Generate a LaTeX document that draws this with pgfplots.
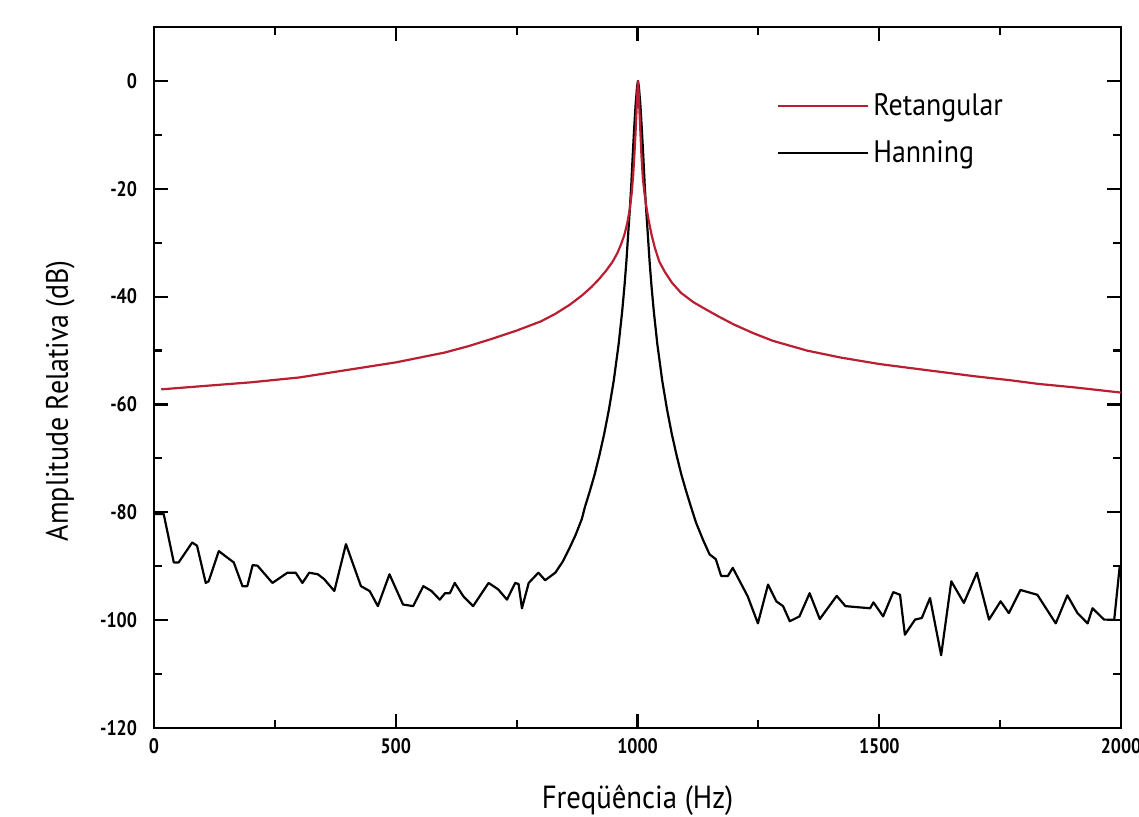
\documentclass[border=0pt]{standalone}
\usepackage{fontspec}
\setmainfont{PT Sans}[FakeStretch=0.9]
\newfontfamily\tickfont{PT Sans}[FakeStretch=0.85]
\usepackage{pgfplots}
\pgfplotsset{compat=1.18}
\definecolor{rectred}{RGB}{185,30,50}
\begin{document}
\begin{tikzpicture}
\begin{axis}[
  scale only axis,
  width=483.5pt, height=350.5pt,
  xmin=0, xmax=2000, ymin=-120, ymax=10,
  xtick={0,500,1000,1500,2000},
  ytick={-120,-100,-80,-60,-40,-20,0},
  minor x tick num=1, minor y tick num=1,
  tick align=inside,
  major tick length=7pt, minor tick length=4pt,
  every tick/.style={black, line width=1.1pt},
  axis line style={line width=1.2pt},
  /pgf/number format/assume math mode=true,
  /pgf/number format/1000 sep={},
  tick label style={font=\tickfont\fontsize{10.5}{12}\selectfont\bfseries},
  yticklabel style={xshift=-5pt},
  xticklabel style={yshift=-1.5pt},
  xlabel={Freqüência (Hz)},
  ylabel={Amplitude Relativa (dB)},
  xlabel style={font=\fontsize{16}{18}\selectfont, at={(axis description cs:0.5,-0.103)}, anchor=center},
  ylabel style={font=\fontsize{15.5}{18}\selectfont, at={(axis description cs:-0.097,0.467)}, anchor=center, rotate=0},
  legend style={at={(axis description cs:0.644,0.911)}, anchor=north west,
    draw=none, fill=none, inner sep=0pt, row sep=7pt,
    font=\fontsize{15.5}{18}\selectfont},
  legend cell align=left,
  legend image code/.code={\draw[#1] (0pt,0pt) -- (45pt,0pt);},
]
\addlegendimage{rectred, line width=1.1pt}
\addlegendentry{Retangular}
\addlegendimage{black, line width=1.1pt}
\addlegendentry{Hanning}

\addplot[black, line width=1.1pt, line join=round, forget plot] coordinates {
(0,-80.3) (20,-80.3) (41,-89.3) (51,-89.3) (79,-85.6) (89,-86.2) (107,-93.1)
(113,-92.8) (134,-87.2) (165,-89.3) (183,-93.7) (193,-93.7) (204,-89.8)
(214,-89.9) (245,-93.1) (276,-91.2) (293,-91.2) (307,-93.1) (321,-91.2)
(339,-91.5) (352,-92.4) (373,-94.6) (397,-85.9) (428,-93.7) (446,-94.6)
(463,-97.4) (487,-91.5) (515,-97.1) (536,-97.4) (557,-93.7) (574,-94.6)
(591,-96.2) (602,-95.0) (612,-95.0) (622,-93.1) (640,-95.6) (660,-97.4)
(692,-93.1) (712,-94.3) (730,-96.2) (747,-93.1) (754,-93.3) (761,-97.8)
(775,-93.1) (795,-91.2) (809,-92.6) (830,-91.2) (845,-89.2) (858,-86.9)
(872,-84.2) (885,-81.2) (891,-79.1) (901,-76.2) (911,-73.1) (921,-69.5)
(931,-65.5) (941,-60.9) (951,-55.5) (961,-48.8) (968,-43) (973,-38.1)
(977,-33.5) (981,-28) (984,-24) (987,-19.5) (990,-14) (993,-9) (996,-4.5)
(999,-1.2) (1001,0) (1003,-1.2) (1006,-4.5) (1009,-9) (1012,-14)
(1015,-19.5) (1018,-24) (1021,-28) (1025,-33.5) (1029,-38.1) (1034,-43)
(1041,-48.8) (1051,-55.5) (1061,-60.9) (1071,-65.5) (1081,-69.5)
(1091,-73.1) (1101,-76.2) (1111,-79.1) (1121,-81.9) (1135,-85.0)
(1149,-87.8) (1162,-88.7) (1173,-91.8) (1187,-91.8) (1197,-90.3) (1228,-95.6)
(1249,-100.6) (1270,-93.4) (1287,-96.5) (1301,-97.4) (1315,-100.2)
(1335,-99.3) (1356,-95) (1377,-99.8) (1412,-95.5) (1430,-97.4) (1481,-97.8)
(1488,-96.7) (1508,-99.3) (1529,-94.8) (1543,-95.3) (1553,-102.7)
(1574,-99.9) (1588,-99.6) (1605,-95.9) (1628,-106.5) (1649,-92.8)
(1675,-96.8) (1702,-91.2) (1727,-99.9) (1751,-96.5) (1768,-98.7)
(1792,-94.4) (1827,-95.3) (1865,-100.6) (1889,-95.4) (1910,-98.7)
(1931,-100.6) (1941,-97.8) (1965,-99.9) (1986,-99.9) (1997,-90.3) (2000,-90)
};

\addplot[rectred, line width=1.1pt, line join=round, forget plot] coordinates {
(15,-57.2) (100,-56.6) (200,-55.9) (300,-55.0) (400,-53.6) (500,-52.2)
(600,-50.4) (650,-49.2) (700,-47.8) (750,-46.3) (800,-44.6) (830,-43.2)
(860,-41.5) (885,-39.8) (905,-38.2) (920,-36.8) (935,-35.2) (948,-33.6)
(958,-32.0) (966,-30.3) (973,-28.5) (979,-26.3) (984,-23.8) (988,-20.8)
(991,-17.5) (994,-13) (996,-9.5) (998,-5.5) (1000,-1.5) (1001,0)
(1002,-1.5) (1004,-5.5) (1006,-9.5) (1008,-13.5) (1011,-18) (1014,-20.5)
(1018,-23.2) (1023,-25.8) (1029,-28.5) (1036,-31) (1045,-33.5)
(1057,-35.5) (1072,-37.5) (1090,-39.3) (1115,-41.0) (1140,-42.3)
(1170,-43.8) (1200,-45.2) (1240,-46.8) (1280,-48.2) (1350,-50.0)
(1420,-51.3) (1500,-52.5) (1560,-53.2) (1630,-54.0) (1700,-54.8)
(1770,-55.5) (1830,-56.2) (1900,-56.8) (2000,-57.8)
};
\end{axis}
\pgfresetboundingbox
\path[use as bounding box] ([shift={(-77pt,-44.5pt)}]current axis.south west) rectangle ([shift={(9pt,13.5pt)}]current axis.north east);
\end{tikzpicture}
\end{document}
